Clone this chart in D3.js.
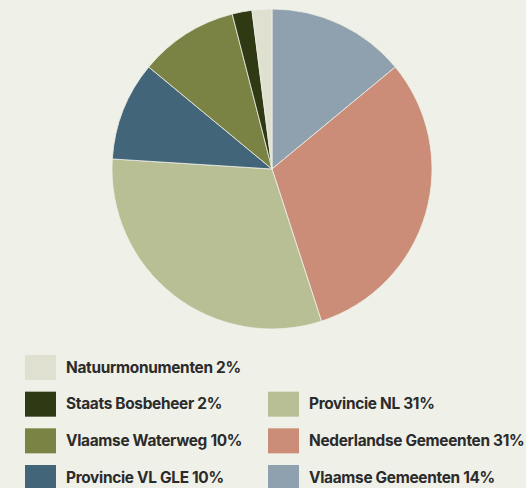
<!DOCTYPE html>
<html>
<head>
<meta charset="utf-8">
<script src="https://cdn.jsdelivr.net/npm/d3@7"></script>
<style>
  html, body { margin: 0; padding: 0; background: #eff0e7; }
  svg { display: block; }
</style>
</head>
<body>
<div id="chart"></div>
<script>
  // legend / pie order (legend reads top to bottom, pie is drawn reversed from 12 o'clock)
  var labels = ['Natuurmonumenten', 'Staats Bosbeheer', 'Vlaamse Waterweg', 'Provincie VL GLE',
                'Provincie NL', 'Nederlandse Gemeenten', 'Vlaamse Gemeenten'];
  var values = [2, 2, 10, 10, 31, 31, 14];
  var colors = ['#dfe0cf', '#2f3914', '#7a8344', '#42657a', '#b8bf95', '#cb8d78', '#8fa1ae'];

  var width = 526, height = 488;
  var cx = 272, cy = 169, radius = 160;

  var svg = d3.select('#chart')
    .append('svg')
    .attr('width', width)
    .attr('height', height);

  svg.append('rect')
    .attr('width', width)
    .attr('height', height)
    .attr('fill', '#eff0e7');

  var data = labels.map(function(l, i) {
    return { label: l, value: values[i], color: colors[i], idx: i };
  });

  // pie goes clockwise from top starting with the last legend entry
  var pie = d3.pie()
    .sort(null)
    .value(function(d) { return d.value; });

  var arc = d3.arc().innerRadius(0).outerRadius(radius);

  var g = svg.append('g').attr('transform', 'translate(' + cx + ',' + cy + ')');

  g.selectAll('path')
    .data(pie(data.slice().reverse()))
    .enter().append('path')
    .attr('d', arc)
    .attr('fill', function(d) { return d.data.color; })
    .attr('stroke', '#eff0e7')
    .attr('stroke-width', 0.8);

  // legend: column 1 has 4 rows, column 2 starts on row 2
  var rowY = d3.scaleLinear().domain([0, 3]).range([355, 465]);
  var colX = [25, 268];

  var items = svg.selectAll('.legend-item')
    .data(data)
    .enter().append('g')
    .attr('class', 'legend-item')
    .attr('transform', function(d, i) {
      var col = i < 4 ? 0 : 1;
      var row = i < 4 ? i : i - 3;
      return 'translate(' + colX[col] + ',' + rowY(row) + ')';
    });

  items.append('rect')
    .attr('width', 31)
    .attr('height', 25)
    .attr('fill', function(d) { return d.color; });

  items.append('text')
    .attr('x', 41)
    .attr('y', 17.5)
    .style('font-family', 'Inter, "Liberation Sans", sans-serif')
    .style('font-weight', '700')
    .style('font-size', '15.4px')
    .style('letter-spacing', '-0.3px')
    .attr('fill', '#2b2b2b')
    .text(function(d) { return d.label + ' ' + d.value + '%'; });
</script>
</body>
</html>
